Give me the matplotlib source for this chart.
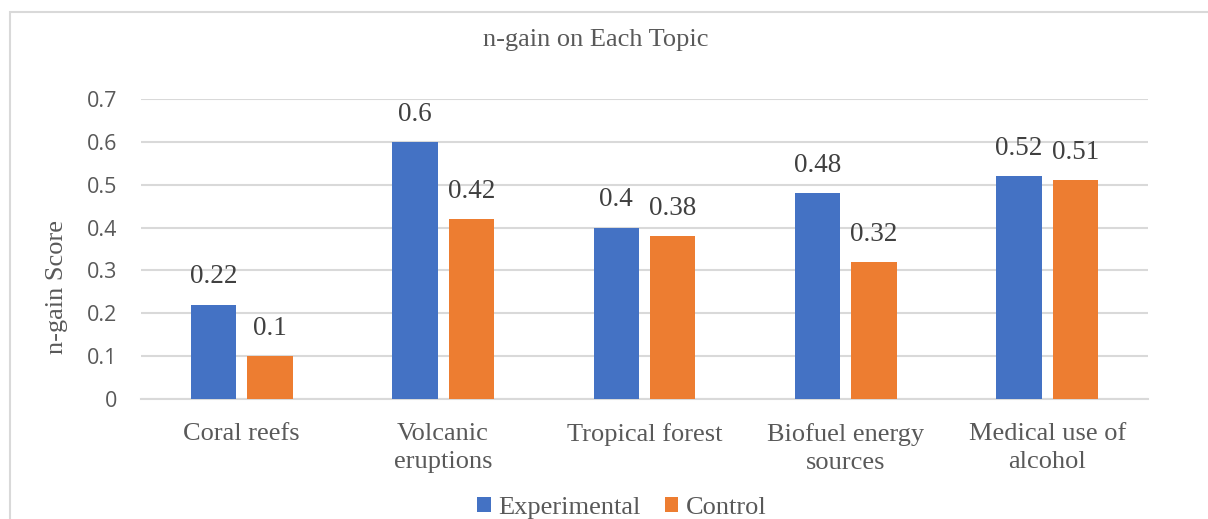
import matplotlib
matplotlib.use("Agg")
import matplotlib.pyplot as plt
import matplotlib.patches as patches
import numpy as np

# chart data
topics = ["Coral reefs", "Volcanic\neruptions", "Tropical forest",
          "Biofuel energy\nsources", "Medical use of\nalcohol"]
experimental = [0.22, 0.60, 0.40, 0.48, 0.52]
control = [0.10, 0.42, 0.38, 0.32, 0.51]
yticks = [0, 0.1, 0.2, 0.3, 0.4, 0.5, 0.6, 0.7]
ytick_labels = ["0", "0.1", "0.2", "0.3", "0.4", "0.5", "0.6", "0.7"]

BLUE = "#4472C4"
ORANGE = "#ED7D31"
GRID = "#D9D9D9"
TEXT = "#595959"
SERIF = "Liberation Serif"

fig = plt.figure(figsize=(12.08, 5.19), dpi=100)
ax = fig.add_axes([141 / 1208, 1 - 399 / 519, 1007 / 1208, 300 / 519])

# outer chart border (cut off at right and bottom like the screenshot)
fig.patches.append(patches.Rectangle((10 / 1208, -0.2), 1.2, 1.2 - 12 / 519,
                                     transform=fig.transFigure, fill=False,
                                     edgecolor=GRID, linewidth=1.5))

x = np.arange(len(topics))
w = 0.225
off = 0.14
b1 = ax.bar(x - off, experimental, w, color=BLUE, label="Experimental", zorder=3)
b2 = ax.bar(x + off, control, w, color=ORANGE, label="Control", zorder=3)

for bars, vals in ((b1, experimental), (b2, control)):
    for rect, v in zip(bars, vals):
        ax.annotate(f"{v:g}", (rect.get_x() + rect.get_width() / 2, v),
                    xytext=(0, 20), textcoords="offset points",
                    ha="center", va="center", fontsize=19.5,
                    family=SERIF, color="#404040")

ax.set_xlim(-0.5, len(topics) - 0.5)
ax.set_ylim(0, 0.7)
ax.set_yticks(yticks)
ax.set_yticklabels(ytick_labels, family="Open Sans", fontsize=15.5, color=TEXT)
ax.set_xticks(x)
ax.set_xticklabels(topics, family=SERIF, fontsize=19, color=TEXT, linespacing=1.4)
ax.tick_params(axis="both", length=0)
ax.tick_params(axis="y", pad=17)
ax.tick_params(axis="x", pad=17)

ax.grid(axis="y", color=GRID, linewidth=1.5, zorder=0)
for s in ("top", "right", "left"):
    ax.spines[s].set_visible(False)
ax.spines["bottom"].set_color(GRID)
ax.spines["bottom"].set_linewidth(1.5)

ax.set_ylabel("n-gain Score", family=SERIF, fontsize=19, color=TEXT)
ax.yaxis.set_label_coords((68 - 141) / 1007, (399 - 287) / 300)

fig.text(596 / 1208, 1 - 40 / 519, "n-gain on Each Topic", ha="center", va="center",
         family=SERIF, fontsize=19, color=TEXT)

leg = fig.legend(handles=[b1, b2], loc="center", bbox_to_anchor=(622 / 1208, 1 - 508 / 519),
                 ncol=2, frameon=False, handlelength=0.5, handleheight=0.5,
                 handletextpad=0.3, columnspacing=0.9, borderpad=0,
                 prop={"family": SERIF, "size": 19})
for t in leg.get_texts():
    t.set_color(TEXT)

fig.savefig("out.png", dpi=100)
